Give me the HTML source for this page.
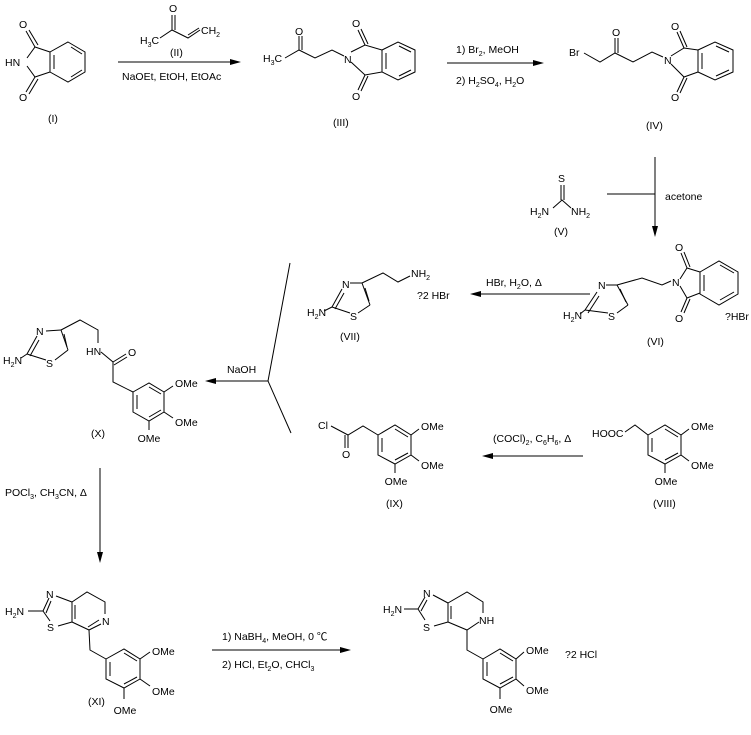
<!DOCTYPE html>
<html><head><meta charset="utf-8"><style>
html,body{margin:0;padding:0;background:#fff;}
svg{display:block;}
text{font-family:"Liberation Sans","Noto Sans CJK SC",sans-serif;font-size:10.5px;fill:#000;}
.s{font-size:7px;}
line,polyline,polygon,path{stroke:#000;stroke-width:1;fill:none;}
.ah{fill:#000;stroke:none;}
</style></head><body>
<svg width="751" height="735" viewBox="0 0 751 735" xmlns="http://www.w3.org/2000/svg">

<!-- (I) phthalimide -->
<polygon points="68,42 85,52 85,72 68,82 50,72 50,52"/>
<line x1="71" y1="47" x2="82" y2="54"/><line x1="82" y1="70" x2="71" y2="77"/><line x1="54" y1="55" x2="54" y2="69"/>
<polyline points="50,52 35,47 27,58"/><polyline points="50,72 35,77 27,66"/>
<line x1="35" y1="47" x2="26" y2="31"/><line x1="38" y1="45" x2="29" y2="30"/>
<line x1="35" y1="77" x2="26" y2="92"/><line x1="38" y1="79" x2="29" y2="94"/>
<text x="19" y="28">O</text><text x="19" y="101">O</text><text x="5" y="66">HN</text>
<text x="48" y="122">(I)</text>

<!-- (II) reagent -->
<text x="140" y="44">H<tspan class="s" dy="3">3</tspan><tspan dy="-3">C</tspan></text>
<polyline points="160,38 172,30 188,38 200,30"/>
<line x1="188" y1="35" x2="199" y2="28"/>
<line x1="172" y1="30" x2="172" y2="15"/>
<line x1="175" y1="30" x2="175" y2="15"/>
<text x="169" y="12">O</text>
<text x="201" y="34">CH<tspan class="s" dy="3">2</tspan></text>
<text x="170" y="56">(II)</text>
<line x1="118" y1="62" x2="234" y2="62"/><polygon class="ah" points="241,62 230,59 230,65"/>
<text x="122" y="80">NaOEt, EtOH, EtOAc</text>

<!-- (III) -->
<text x="263" y="62">H<tspan class="s" dy="3">3</tspan><tspan dy="-3">C</tspan></text>
<polyline points="285,58 299,50 315,58 332,50 344,56"/>
<line x1="299" y1="50" x2="299" y2="36"/><line x1="302" y1="50" x2="302" y2="36"/>
<text x="295" y="35">O</text>
<text x="344" y="63">N</text>
<polyline points="351,52 365,45 382,50"/><polyline points="351,62 365,75 382,72"/>
<line x1="365" y1="45" x2="358" y2="30"/><line x1="368" y1="44" x2="361" y2="29"/>
<line x1="365" y1="75" x2="358" y2="90"/><line x1="368" y1="76" x2="361" y2="91"/>
<text x="352" y="27">O</text><text x="352" y="100">O</text>
<polygon points="382,50 398,42 415,50 415,72 398,80 382,72"/>
<line x1="386" y1="53" x2="386" y2="69"/><line x1="399" y1="46" x2="411" y2="52"/><line x1="411" y1="70" x2="399" y2="76"/>
<text x="333" y="126">(III)</text>

<!-- arrow III->IV -->
<line x1="447" y1="63" x2="537" y2="63"/><polygon class="ah" points="544,63 533,60 533,66"/>
<text x="456" y="53">1) Br<tspan class="s" dy="3">2</tspan><tspan dy="-3">, MeOH</tspan></text>
<text x="456" y="84">2) H<tspan class="s" dy="3">2</tspan><tspan dy="-3">SO</tspan><tspan class="s" dy="3">4</tspan><tspan dy="-3">, H</tspan><tspan class="s" dy="3">2</tspan><tspan dy="-3">O</tspan></text>

<!-- (IV) -->
<text x="569" y="56">Br</text>
<polyline points="584,53 600,62 615,53 633,62 652,52 663,57"/>
<line x1="615" y1="53" x2="615" y2="38"/><line x1="618" y1="53" x2="618" y2="38"/>
<text x="612" y="36">O</text>
<text x="664" y="64">N</text>
<polyline points="671,56 684,48 698,50"/><polyline points="671,64 684,77 698,72"/>
<line x1="684" y1="48" x2="677" y2="32"/><line x1="687" y1="47" x2="680" y2="31"/>
<line x1="684" y1="77" x2="677" y2="92"/><line x1="687" y1="78" x2="680" y2="93"/>
<text x="671" y="30">O</text><text x="671" y="101">O</text>
<polygon points="698,50 715,42 733,50 733,72 715,80 698,72"/>
<line x1="702" y1="53" x2="702" y2="69"/><line x1="716" y1="46" x2="729" y2="52"/><line x1="729" y1="70" x2="716" y2="76"/>
<text x="646" y="129">(IV)</text>

<!-- (V) thiourea + arrow -->
<text x="558" y="182">S</text>
<line x1="561" y1="185" x2="561" y2="200"/><line x1="564" y1="185" x2="564" y2="200"/>
<polyline points="553,208 562,200 571,208"/>
<text x="530" y="215">H<tspan class="s" dy="3">2</tspan><tspan dy="-3">N</tspan></text>
<text x="571" y="215">NH<tspan class="s" dy="3">2</tspan></text>
<text x="554" y="235">(V)</text>
<line x1="607" y1="194" x2="655" y2="194"/>
<line x1="655" y1="157" x2="655" y2="230"/><polygon class="ah" points="655,237 652,226 658,226"/>
<text x="665" y="200">acetone</text>

<!-- (VI) -->
<text x="563" y="319">H<tspan class="s" dy="3">2</tspan><tspan dy="-3">N</tspan></text>
<line x1="580" y1="314" x2="585" y2="310"/>
<line x1="585" y1="310" x2="597" y2="292"/><line x1="588" y1="313" x2="599" y2="296"/>
<line x1="606" y1="285" x2="617" y2="285"/>
<line x1="617" y1="285" x2="628" y2="305"/><line x1="620" y1="289" x2="626" y2="302"/>
<line x1="628" y1="305" x2="617" y2="313"/><line x1="585" y1="310" x2="608" y2="313"/>
<text x="598" y="289">N</text><text x="608" y="320">S</text>
<polyline points="617,285 642,278 662,285 671,281"/>
<text x="672" y="286">N</text>
<polyline points="680,279 687,268 700,272"/><polyline points="680,286 687,298 700,293"/>
<line x1="687" y1="268" x2="681" y2="253"/><line x1="690" y1="267" x2="684" y2="252"/>
<line x1="687" y1="298" x2="681" y2="312"/><line x1="690" y1="299" x2="684" y2="313"/>
<text x="675" y="251">O</text><text x="675" y="322">O</text>
<polygon points="700,272 719,261 738,272 738,294 719,305 700,294"/>
<line x1="704" y1="275" x2="704" y2="291"/><line x1="720" y1="265" x2="734" y2="273"/><line x1="734" y1="292" x2="720" y2="300"/>
<text x="725" y="320">?HBr</text>
<text x="647" y="345">(VI)</text>

<!-- arrow VI->VII -->
<line x1="590" y1="294" x2="477" y2="294"/><polygon class="ah" points="470,294 481,291 481,297"/>
<text x="486" y="286">HBr, H<tspan class="s" dy="3">2</tspan><tspan dy="-3">O, Δ</tspan></text>

<!-- (VII) -->
<text x="307" y="316">H<tspan class="s" dy="3">2</tspan><tspan dy="-3">N</tspan></text>
<line x1="324" y1="311" x2="332" y2="307"/>
<line x1="332" y1="307" x2="342" y2="289"/><line x1="335" y1="309" x2="344" y2="293"/>
<line x1="350" y1="283" x2="362" y2="283"/>
<line x1="362" y1="283" x2="370" y2="305"/><line x1="365" y1="288" x2="369" y2="301"/>
<line x1="370" y1="305" x2="358" y2="313"/><line x1="332" y1="307" x2="350" y2="313"/>
<text x="342" y="288">N</text><text x="350" y="320">S</text>
<polyline points="362,283 383,273 398,282 410,276"/>
<text x="411" y="277">NH<tspan class="s" dy="3">2</tspan></text>
<text x="417" y="299">?2 HBr</text>
<text x="340" y="340">(VII)</text>

<!-- fork to X -->
<polyline points="290,263 268,381 291,433"/>
<line x1="268" y1="381" x2="212" y2="381"/><polygon class="ah" points="205,381 216,378 216,384"/>
<text x="227" y="373">NaOH</text>

<!-- (X) -->
<text x="3" y="364">H<tspan class="s" dy="3">2</tspan><tspan dy="-3">N</tspan></text>
<line x1="21" y1="358" x2="27" y2="354"/>
<line x1="27" y1="354" x2="37" y2="336"/><line x1="30" y1="356" x2="39" y2="340"/>
<line x1="46" y1="331" x2="61" y2="330"/>
<line x1="61" y1="330" x2="68" y2="350"/><line x1="64" y1="334" x2="67" y2="347"/>
<line x1="68" y1="350" x2="55" y2="360"/><line x1="27" y1="354" x2="46" y2="360"/>
<text x="36" y="335">N</text><text x="46" y="367">S</text>
<polyline points="61,330 80,320 98,330 98,343"/>
<text x="86" y="355">HN</text>
<polyline points="101,352 113,362 113,382 133,392"/>
<line x1="113" y1="362" x2="126" y2="354"/><line x1="114" y1="365" x2="127" y2="357"/>
<text x="128" y="356">O</text>
<g transform="translate(133,392)">
<polygon points="0,0 16,-9 31,0 31,20 16,29 0,20"/>
<line x1="4" y1="3" x2="4" y2="17"/><line x1="16" y1="-5" x2="28" y2="2"/><line x1="28" y1="18" x2="16" y2="25"/>
<line x1="31" y1="0" x2="40" y2="-6"/><text x="42" y="-5">OMe</text>
<line x1="31" y1="20" x2="40" y2="26"/><text x="42" y="34">OMe</text>
<line x1="16" y1="29" x2="16" y2="38"/><text x="16" y="50" text-anchor="middle">OMe</text>
</g>
<text x="91" y="437">(X)</text>

<!-- (IX) -->
<text x="318" y="429">Cl</text>
<polyline points="331,426 348,435 363,426 378,435"/>
<line x1="348" y1="435" x2="348" y2="448"/><line x1="345" y1="435" x2="345" y2="448"/>
<text x="342" y="458">O</text>
<g transform="translate(378,435)">
<polygon points="0,0 17,-10 33,0 33,20 17,29 0,20"/>
<line x1="4" y1="3" x2="4" y2="17"/><line x1="17" y1="-6" x2="30" y2="2"/><line x1="30" y1="18" x2="17" y2="25"/>
<line x1="33" y1="0" x2="41" y2="-6"/><text x="43" y="-5">OMe</text>
<line x1="33" y1="20" x2="41" y2="26"/><text x="43" y="34">OMe</text>
<line x1="17" y1="29" x2="17" y2="38"/><text x="18" y="50" text-anchor="middle">OMe</text>
</g>
<text x="386" y="507">(IX)</text>

<!-- arrow VIII->IX -->
<line x1="583" y1="456" x2="489" y2="456"/><polygon class="ah" points="482,456 493,453 493,459"/>
<text x="493" y="442">(COCl)<tspan class="s" dy="3">2</tspan><tspan dy="-3">, C</tspan><tspan class="s" dy="3">6</tspan><tspan dy="-3">H</tspan><tspan class="s" dy="3">6</tspan><tspan dy="-3">, Δ</tspan></text>

<!-- (VIII) -->
<text x="592" y="437">HOOC</text>
<polyline points="625,432 635,425 648,435"/>
<g transform="translate(648,435)">
<polygon points="0,0 17,-10 33,0 33,20 17,29 0,20"/>
<line x1="4" y1="3" x2="4" y2="17"/><line x1="17" y1="-6" x2="30" y2="2"/><line x1="30" y1="18" x2="17" y2="25"/>
<line x1="33" y1="0" x2="41" y2="-6"/><text x="43" y="-5">OMe</text>
<line x1="33" y1="20" x2="41" y2="26"/><text x="43" y="34">OMe</text>
<line x1="17" y1="29" x2="17" y2="38"/><text x="18" y="50" text-anchor="middle">OMe</text>
</g>
<text x="653" y="507">(VIII)</text>

<!-- arrow X->XI -->
<line x1="100" y1="468" x2="100" y2="556"/><polygon class="ah" points="100,563 97,552 103,552"/>
<text x="5" y="496">POCl<tspan class="s" dy="3">3</tspan><tspan dy="-3">, CH</tspan><tspan class="s" dy="3">3</tspan><tspan dy="-3">CN, Δ</tspan></text>

<!-- (XI) -->
<text x="5" y="615">H<tspan class="s" dy="3">2</tspan><tspan dy="-3">N</tspan></text>
<line x1="28" y1="611" x2="43" y2="611"/>
<line x1="43" y1="611" x2="49" y2="598"/><line x1="46" y1="613" x2="51" y2="601"/>
<line x1="56" y1="596" x2="72" y2="602"/>
<line x1="72" y1="602" x2="72" y2="622"/><line x1="75" y1="605" x2="75" y2="619"/>
<line x1="72" y1="622" x2="58" y2="626"/><line x1="43" y1="611" x2="50" y2="621"/>
<text x="46" y="598">N</text><text x="47" y="631">S</text>
<polyline points="72,602 87,592 105,602 105,614"/>
<text x="102" y="625">N</text>
<line x1="101" y1="624" x2="89" y2="630"/><line x1="99" y1="620" x2="88" y2="627"/>
<polyline points="89,630 72,622"/>
<polyline points="89,630 90,650 106,659"/>
<g transform="translate(106,659)">
<polygon points="0,0 18,-10 34,0 34,20 18,29 0,20"/>
<line x1="4" y1="3" x2="4" y2="17"/><line x1="18" y1="-6" x2="31" y2="2"/><line x1="31" y1="18" x2="18" y2="25"/>
<line x1="34" y1="0" x2="44" y2="-7"/><text x="46" y="-4">OMe</text>
<line x1="34" y1="20" x2="44" y2="27"/><text x="46" y="36">OMe</text>
<line x1="18" y1="29" x2="18" y2="40"/><text x="19" y="55" text-anchor="middle">OMe</text>
</g>
<text x="88" y="705">(XI)</text>

<!-- arrow XI->final -->
<line x1="212" y1="650" x2="344" y2="650"/><polygon class="ah" points="351,650 340,647 340,653"/>
<text x="222" y="640">1) NaBH<tspan class="s" dy="3">4</tspan><tspan dy="-3">, MeOH, 0 ℃</tspan></text>
<text x="222" y="668">2) HCl, Et<tspan class="s" dy="3">2</tspan><tspan dy="-3">O, CHCl</tspan><tspan class="s" dy="3">3</tspan></text>

<!-- final -->
<text x="383" y="613">H<tspan class="s" dy="3">2</tspan><tspan dy="-3">N</tspan></text>
<line x1="404" y1="609" x2="418" y2="609"/>
<line x1="418" y1="609" x2="425" y2="597"/><line x1="421" y1="611" x2="427" y2="600"/>
<line x1="433" y1="595" x2="448" y2="603"/>
<line x1="448" y1="603" x2="448" y2="622"/><line x1="451" y1="606" x2="451" y2="619"/>
<line x1="448" y1="622" x2="434" y2="626"/><line x1="418" y1="609" x2="425" y2="620"/>
<text x="423" y="597">N</text><text x="423" y="631">S</text>
<polyline points="448,603 467,592 483,602 483,613"/>
<text x="479" y="624">NH</text>
<polyline points="479,622 467,630 448,622"/>
<polyline points="467,630 467,650 483,659"/>
<g transform="translate(483,659)">
<polygon points="0,0 17,-10 33,0 33,20 17,29 0,20"/>
<line x1="4" y1="3" x2="4" y2="17"/><line x1="17" y1="-6" x2="30" y2="2"/><line x1="30" y1="18" x2="17" y2="25"/>
<line x1="33" y1="0" x2="41" y2="-7"/><text x="43" y="-5">OMe</text>
<line x1="33" y1="20" x2="41" y2="27"/><text x="43" y="35">OMe</text>
<line x1="17" y1="29" x2="17" y2="40"/><text x="18" y="54" text-anchor="middle">OMe</text>
</g>
<text x="565" y="658">?2 HCl</text>

</svg>
</body></html>
